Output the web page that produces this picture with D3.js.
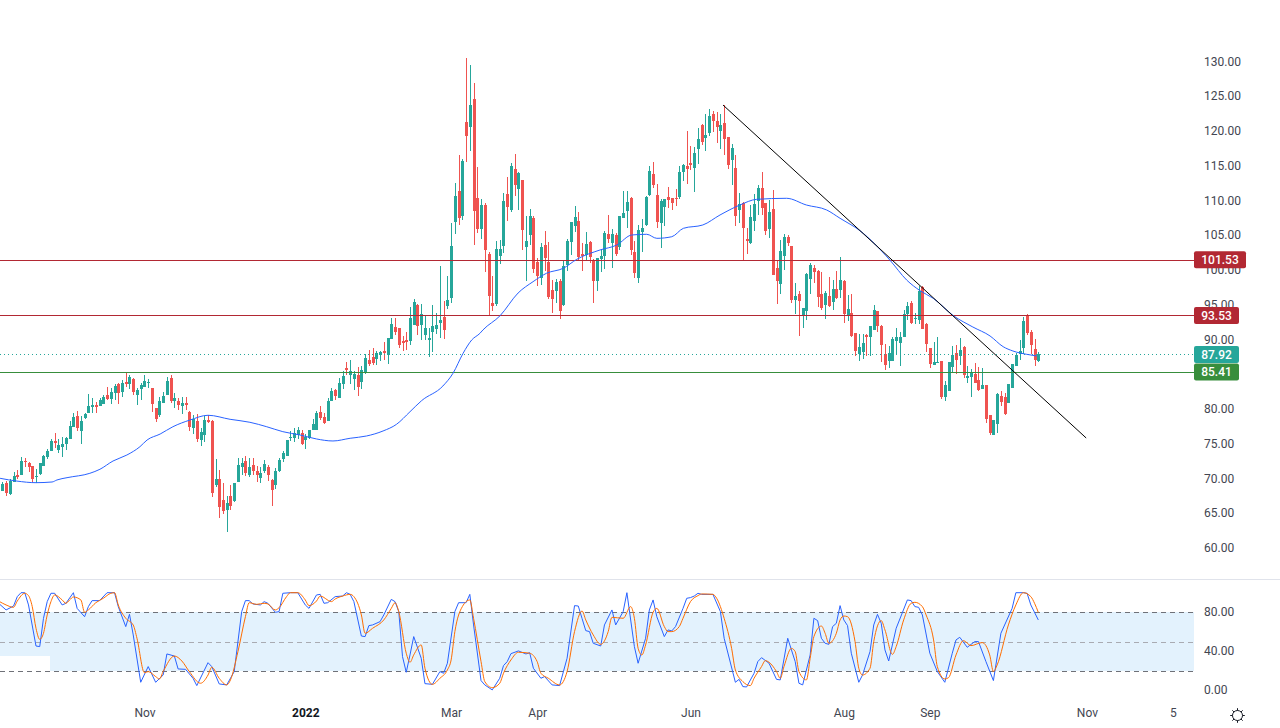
<!DOCTYPE html>
<html><head><meta charset="utf-8">
<script src="https://cdnjs.cloudflare.com/ajax/libs/d3/7.8.5/d3.min.js"></script>
<style>
html,body{margin:0;padding:0;background:#fff;overflow:hidden}
text{font-family:Roboto,"Open Sans",Arial,sans-serif;font-size:12px;fill:#434651}
</style></head><body><svg id="c" width="1280" height="728"></svg>
<script>
const opens=[
68.26,69.41,67.82,69.60,70.51,70.56,72.58,72.29,71.86,70.27,
70.70,71.86,73.15,74.02,75.46,74.16,74.59,75.02,75.74,77.47,
79.06,76.90,78.72,79.49,80.35,80.64,80.50,80.78,82.08,81.50,
82.37,83.66,82.51,83.90,83.66,84.38,82.08,82.94,83.23,83.81,
83.09,80.21,79.20,80.93,82.08,84.53,81.22,81.22,80.50,80.93,
79.63,77.33,78.34,75.60,76.32,78.48,78.34,69.12,69.98,66.96,
65.52,67.54,66.82,69.55,71.71,72.58,70.56,72.00,71.13,70.12,
71.13,71.70,69.83,69.11,71.13,72.85,73.29,75.93,75.88,76.31,
76.60,75.59,75.88,77.03,77.03,79.62,78.90,78.33,81.21,82.79,
81.64,83.65,85.96,84.95,84.37,84.95,83.94,85.24,87.11,87.54,
87.25,87.83,88.41,87.83,90.13,91.86,91.72,89.85,89.99,89.85,
92.15,95.03,92.15,90.71,89.99,91.14,91.57,92.44,93.30,94.90,
96.05,106.98,111.44,107.85,121.37,120.65,124.68,110.44,105.98,109.43,
102.38,95.33,95.18,102.09,103.53,111.01,108.71,114.61,111.73,113.03,
103.39,105.11,107.56,101.23,98.93,103.67,101.23,97.20,97.05,98.49,
95.04,100.80,104.10,106.41,107.13,102.38,102.23,104.10,101.52,98.49,
101.66,102.09,105.26,103.96,105.11,103.39,107.56,108.57,110.44,102.67,
98.93,105.54,106.54,110.86,113.88,110.86,106.83,109.13,110.57,110.43,
110.43,110.57,114.17,115.03,115.47,114.75,117.48,120.93,119.06,119.78,
122.52,121.51,120.07,121.22,119.21,115.90,114.75,108.70,109.71,104.53,
103.96,107.12,110.00,111.87,109.71,105.97,108.85,100.36,98.06,102.08,
104.82,103.53,95.75,96.62,93.60,94.17,98.78,100.36,99.93,96.62,
95.03,96.33,95.47,97.34,97.19,98.49,93.60,93.89,91.01,87.99,
88.27,90.72,90.43,91.44,94.17,92.01,87.99,86.98,86.98,89.86,
89.57,90.43,93.74,95.32,93.03,92.88,97.63,92.30,88.85,86.40,
86.69,86.98,81.80,82.66,86.12,88.13,87.70,88.99,84.53,84.68,
85.11,84.25,82.95,83.53,79.21,76.33,77.91,81.94,81.80,80.94,
83.09,86.26,87.99,88.85,93.60,91.15,88.71,86.98];
const highs=[
69.60,69.74,69.94,70.94,71.28,73.10,72.96,72.43,71.86,71.42,
72.29,73.44,74.30,75.70,76.56,75.70,75.98,76.03,78.34,79.49,
79.78,79.06,79.49,82.22,81.65,81.07,81.65,82.08,83.23,83.09,
83.66,83.81,84.24,85.34,84.96,84.53,83.09,83.81,84.96,84.38,
83.09,80.21,81.79,82.51,84.67,84.96,82.37,81.65,81.79,81.79,
79.78,79.20,79.34,77.33,79.06,79.20,78.48,72.86,71.28,69.41,
67.54,69.12,69.41,73.01,73.01,73.30,73.01,73.01,71.85,71.70,
72.71,71.99,69.97,71.56,73.00,74.01,75.59,76.89,77.32,77.46,
77.03,76.45,77.03,78.61,79.77,80.49,79.48,81.64,83.08,82.93,
84.52,85.53,86.82,87.11,85.53,86.10,86.25,87.97,88.55,88.84,
88.41,88.41,89.70,90.28,93.16,93.16,91.72,90.57,91.14,94.74,
95.89,95.17,95.17,93.45,91.72,95.03,93.88,100.65,95.61,99.21,
106.84,112.59,116.62,116.05,130.58,129.57,126.98,114.90,110.29,109.72,
102.67,99.21,104.25,104.39,111.16,113.46,115.47,116.77,114.18,113.03,
107.85,108.85,107.85,101.80,103.96,105.69,104.10,98.64,98.78,98.78,
101.52,104.54,106.98,109.28,108.42,103.96,105.54,104.25,101.66,101.80,
103.10,105.69,107.99,105.98,105.40,107.85,111.44,111.44,110.58,104.25,
106.55,107.41,110.72,115.03,115.61,112.44,110.29,110.29,112.01,110.43,
111.72,115.03,115.32,120.07,117.91,117.77,120.50,121.08,122.52,123.24,
122.95,122.80,122.52,123.81,119.21,118.20,116.62,111.15,109.85,106.11,
109.42,111.01,112.30,114.17,109.71,110.14,111.58,101.51,104.39,105.25,
105.11,103.53,98.20,97.05,94.60,99.64,101.08,100.79,100.07,99.78,
97.05,99.06,98.63,99.93,101.94,98.63,96.48,96.62,91.01,90.86,
90.86,90.86,92.01,95.04,94.17,92.16,89.43,89.14,90.43,91.73,
91.15,94.32,95.47,95.61,93.89,97.77,97.77,92.45,88.85,89.71,
90.43,86.98,84.10,86.84,89.14,89.28,90.29,89.14,86.26,85.83,
86.69,86.12,85.97,83.53,79.21,78.49,82.38,82.66,82.38,83.67,
86.55,88.13,90.00,93.31,93.74,91.44,90.14,88.27];
const lows=[
68.26,67.58,67.68,69.60,69.94,70.56,71.66,71.04,69.60,69.46,
70.56,71.86,72.82,74.02,74.45,73.73,73.15,74.16,75.74,77.47,
76.90,75.02,78.58,79.49,79.49,79.49,80.50,80.78,81.36,80.78,
81.36,80.78,81.79,83.23,82.94,82.08,80.64,81.36,83.23,83.09,
79.63,78.19,78.91,80.93,82.08,80.93,80.21,79.92,79.34,79.92,
76.90,76.46,75.31,74.74,75.31,78.05,67.39,68.83,64.37,64.94,
62.35,65.52,66.67,69.55,70.56,70.42,70.27,70.56,69.54,69.40,
70.84,69.69,66.09,68.53,70.99,72.42,73.29,75.45,75.30,75.73,
74.87,74.29,75.73,77.03,77.03,78.47,77.89,78.33,81.21,81.35,
81.64,82.93,84.95,83.65,82.79,81.93,82.93,85.09,86.25,86.39,
86.39,86.97,87.11,86.53,90.13,90.71,88.84,88.41,88.55,89.27,
92.15,90.71,89.99,89.99,87.54,88.26,90.85,90.28,90.13,94.46,
95.33,105.26,106.55,107.27,115.62,117.20,103.67,105.40,104.54,99.79,
93.51,94.18,94.90,100.94,102.52,107.13,108.42,110.73,108.71,102.95,
98.49,103.67,99.64,97.77,97.92,99.93,95.90,93.89,95.33,93.03,
94.90,99.93,102.23,105.54,101.52,99.93,101.37,101.08,95.33,97.05,
99.79,100.22,103.96,100.36,102.09,102.95,107.56,106.12,102.23,98.93,
98.21,102.66,106.40,110.72,111.87,106.11,103.24,106.40,108.99,108.70,
109.28,110.29,112.88,112.44,114.46,111.29,115.32,118.06,117.19,119.35,
119.93,118.34,117.48,116.62,114.60,112.30,106.40,106.83,101.46,102.37,
103.81,105.68,107.98,107.98,105.11,104.67,99.35,95.18,96.62,100.07,
103.53,95.33,93.74,90.57,91.73,92.88,96.62,98.20,94.75,94.32,
93.02,94.75,94.32,95.90,96.04,92.45,92.73,90.43,87.70,86.98,
87.27,87.70,87.70,91.44,91.15,86.84,85.68,85.97,86.98,87.99,
86.26,90.43,92.88,92.30,92.30,92.30,91.58,88.27,85.97,86.40,
86.69,81.51,81.22,82.66,85.25,85.11,86.40,84.53,83.81,81.80,
83.81,82.66,82.95,78.06,76.33,76.33,76.62,80.51,79.21,80.94,
83.09,86.26,87.12,87.99,90.72,87.99,86.26,86.84];
const closes=[
69.26,67.92,69.74,70.42,70.22,72.58,72.43,71.71,69.94,70.37,
72.29,73.30,74.02,75.46,75.17,74.88,75.02,75.89,77.62,78.91,
77.33,78.34,79.34,80.50,80.64,80.40,81.36,81.79,81.50,82.51,
83.38,82.37,83.81,83.66,84.67,82.51,82.80,83.52,84.10,83.95,
80.78,78.62,81.22,81.94,84.10,81.22,81.65,80.64,80.93,80.64,
77.47,78.62,75.74,76.75,78.48,78.19,67.97,69.98,65.95,65.38,
66.53,66.10,69.41,72.00,72.29,70.85,71.71,71.14,70.55,70.84,
72.13,70.55,68.39,71.13,72.71,73.72,75.59,76.02,76.60,77.03,
75.01,76.02,77.03,77.89,79.48,78.76,78.04,81.21,82.65,81.93,
83.80,84.81,85.67,85.53,85.09,83.22,85.67,87.40,86.53,86.68,
88.12,88.26,88.12,90.28,92.29,91.14,89.27,89.56,89.70,93.16,
95.46,92.01,93.73,91.72,90.28,92.01,92.15,92.87,91.43,95.76,
103.53,110.73,107.56,115.76,119.36,123.82,108.57,105.98,109.43,102.95,
96.34,94.90,103.10,103.10,110.00,109.14,115.04,112.31,114.03,105.83,
104.25,107.85,100.22,99.21,103.39,101.80,96.19,95.90,98.35,94.18,
100.65,104.25,106.98,107.70,101.95,102.09,103.82,101.95,98.49,101.80,
102.09,105.40,104.54,105.26,102.38,107.85,108.28,109.86,102.95,99.64,
105.83,106.11,110.57,114.31,112.30,106.98,110.00,110.29,110.14,109.71,
110.29,114.17,115.18,114.60,115.18,116.90,118.92,118.49,119.49,122.23,
121.51,120.65,120.93,118.92,115.18,117.62,107.84,109.57,106.11,104.24,
107.70,109.57,111.87,108.99,105.68,108.42,99.35,98.49,102.80,104.82,
103.96,95.75,96.33,95.61,94.60,99.49,100.79,99.78,96.19,94.60,
96.76,94.89,97.34,96.04,98.63,93.74,94.46,90.58,88.42,88.99,
89.57,90.43,92.01,94.32,92.01,89.28,86.40,88.13,90.14,90.43,
90.43,93.74,94.89,92.45,93.17,97.05,91.58,89.43,86.55,86.84,
86.84,81.80,83.53,86.84,87.84,87.12,88.56,84.96,84.82,85.40,
83.81,82.81,83.53,78.63,76.62,78.49,82.23,81.08,79.35,83.67,
86.55,87.84,88.42,92.73,91.01,89.28,87.12,87.92];

const maBars=[-0.6,3.9,9,13.3,14.6,17.3,23.4,26.1,29.6,33.3,36.8,38.7,42.2,45.6,50.2,55,60.9,66.2,70.7,75,79.6,84,88.4,93,97.4,101.8,105.4,109,112.1,117.8,120.5,123.2,125.5,127.7,128.5,133.1,137.9,141.9,145.5,150,153.6,159.8,164.3,168.3,172.3,175,179,182.1,187.3,191.9,197.2,201.7,209.7,215,220.4,224,229.3,237.3,241.8,245.4,248.9,254.3,259.5,264.1,267.6,270.2,273.9,276.6];
const maValues=[70.1,69.7,69.47,69.57,69.86,70.19,70.82,71.40,72.59,73.45,74.65,75.61,76.47,77.52,78.49,79.17,78.59,78.16,77.52,76.81,76.33,75.76,75.47,75.86,76.19,76.91,77.87,79.68,81.27,83.38,85.21,88.09,90.0,90.96,91.44,93.50,96.76,98.39,99.6,100.32,101.61,102.95,103.67,105.11,105.21,104.63,104.86,106.07,106.55,107.99,109.42,110.24,110.39,109.42,108.71,107.51,105.73,101.51,98.63,97.09,96.0,93.50,91.87,90.58,89.04,88.42,87.94,87.70];

const kBars=[-1,1,3,4,5,6,7,9,10,11,12,13,14,16,17,19,20,22,23,24,26,28,30,31,33,34,35,37,39,41,43,44,46,47,49,51,52,55,56,58,60,62,64,65,66,67,69,70,71,73,74,75,77,79,81,82,84,85,86,87,89,91,92,93,
94,96,97,98,99,101,102,104,105,106,107,108,109,110,112,113,115,117,118,119,121,122,124,125,126,128,129,131,133,134,135,136,138,140,141,142,144,145,147,149,151,153,154,155,156,157,158,160,161,163,164,166,167,169,170,172,173,174,175,177,178,179,180,182,183,184,
185,186,187,190,192,193,196,197,198,199,201,202,203,205,207,208,210,212,213,214,216,217,218,219,220,221,222,223,224,225,226,227,229,230,232,233,234,235,236,237,239,242,243,244,245,246,248,250,252,254,255,256,258,260,261,263,265,267,270,271,273,274,275,277];
const kValues=[89.2,82.4,86.4,96,100,100,87.5,45.6,45,73.8,90.9,99.4,99.4,87.5,89.2,100,84,75.5,85.8,91.9,91.9,100,100,85.8,65.4,78,56.9,8.6,24.6,8.6,16,37.5,35.4,22.2,21.8,12.6,5.2,28.6,24.6,6.9,5.9,19.5,80.7,91.9,91.9,88.5,87.5,90.9,89.2,80,80.7,99.4,100,100,87.5,84,97.7,98.3,89.2,89.8,96,96.6,100,98.3,
90.9,55.8,55.2,66.4,67.1,70.5,77.3,93.2,90.9,80.7,34.8,18.8,36.5,55.2,33.1,7.2,6.5,19.5,17.8,28,80.7,89.8,89.8,98.3,67.1,10.3,5.9,0.8,12.7,25.6,29.7,37.8,40.6,37.5,38.8,22.9,12.7,14.4,5.9,5.2,33.1,86.8,86.4,73.8,61.3,60.3,48.4,45.6,67.1,82.4,67.1,80.7,100,45,28,53.5,82.4,92.6,75.5,55.2,62,61,65.4,84,94.3,95,
96.6,99.4,98.3,98.3,80.7,53.5,8.6,11.6,4.2,3.8,17.8,29.7,33.7,28,11.6,11,53.5,29.7,7.6,5.9,36.5,73.9,71.5,53.5,48.4,47.3,65.4,68.8,86.8,72.2,66.4,38.2,8.6,16,39.9,67.1,77.9,68.8,41.6,30.3,63.7,92.6,91.9,85.8,85.1,77.3,38.2,19.5,8.6,38.2,51.8,54.5,44.3,50.1,50.1,29.7,10.3,58.6,84,100,100,99.4,87.5,72.2];
const dBars=[-1,1,3,4,6,7,8,9,10,11,12,13,14,16,17,18,19,21,22,23,25,27,29,30,31,33,35,36,38,39,41,42,43,46,48,50,53,55,56,58,60,61,63,65,66,68,70,71,73,74,76,77,79,81,82,84,85,88,89,91,93,
94,96,97,99,102,104,105,106,108,109,110,112,113,115,117,119,120,121,123,125,126,128,129,131,133,134,136,138,141,143,144,146,149,151,153,155,156,158,160,162,163,166,168,169,170,171,172,174,175,177,178,179,181,182,184,
186,187,190,191,193,195,196,198,200,201,203,204,205,207,208,209,211,212,213,215,216,217,219,220,221,223,224,225,226,228,229,230,232,233,235,236,238,239,241,243,244,246,247,249,250,252,253,255,257,259,262,264,265,266,269,271,273,275,276,277];
const dValues=[91.5,87.5,85.1,91.5,99.4,97,85.8,63.7,52.4,58.6,77.3,90.9,97.7,92.6,89.2,92.6,95.6,92.6,80,82.4,89.8,94.3,99.4,100,87.5,73.9,67,53.5,18.4,19.5,14.4,12,19.5,35.4,30.3,19.5,7.6,16,23.9,12.6,5.9,11,39.9,75.6,89.8,88.1,89.2,88.5,82.4,84.7,96,100,100,92.6,86.8,91.5,96.6,90.9,93.6,96.6,98.3,
96,77.3,58.6,63.7,72.2,84,89.8,80.7,38.2,29,36.5,46.7,22.9,6.5,12.7,21.2,31.4,60.3,85.8,92.6,73.9,29.7,9.3,3.1,7.6,17.8,31.4,39.2,38.2,29.7,17.8,12.7,5.9,19.5,60.3,81.3,72.2,56.9,47.3,60.3,74.9,73.9,85.8,73.9,43.2,36.5,46.7,80,84,65.4,60.3,60.3,65.4,73.9,90.9,
97,98.7,98.3,94.3,73.9,43.2,21.2,9.3,5.2,12.7,24.6,30.7,29,19.5,12.7,24.6,43.2,39.9,19.5,11,33.1,55.2,66,58.6,48.4,58.6,72.2,76.2,75.5,50.1,22.9,16,22.9,50.1,71.5,62,37.1,45,72.2,89.2,90.2,85.8,77.3,51.8,24.6,12,13.3,36.5,51.1,46,49.1,36.5,19.5,26.3,67.1,87.5,100,96,89.2,80];

const priceTicks=d3.range(60,131,5);
const stochTicks=[0,40,80];
const stochLevels=[20,50,80];
const resistance=[101.53,93.53];
const support=[85.41];
const lastPrice=87.92;
const trendBars=[192.7,289.8];
const trendValues=[123.81,75.9];
const timeTickBars=[38,81,120,143,184,225,248,290,313];
const timeTickLabels=["Nov","2022","Mar","Apr","Jun","Aug","Sep","Nov","5"];

const up="#26a69a",down="#ef5350",red="#b22833",grn="#388e3c",axisX=1194;
const svg=d3.select("#c");
const x=d3.scaleLinear().domain([0,277]).range([2.33,1038.3]);
const y=d3.scaleLinear().domain([60,130]).range([548.5,62]);
const ys=d3.scaleLinear().domain([0,100]).range([690.7,592.7]);
const defs=svg.append("defs");
defs.append("clipPath").attr("id","cp").append("rect").attr("x",0).attr("y",0).attr("width",axisX).attr("height",579);
defs.append("clipPath").attr("id","cs").append("rect").attr("x",0).attr("y",580).attr("width",axisX).attr("height",120);

// price axis
const pa=svg.append("g").attr("transform",`translate(${axisX},-0.6)`).call(d3.axisRight(y).tickValues(priceTicks).tickSize(0).tickPadding(10).tickFormat(d3.format(".2f")));
pa.select(".domain").remove();

const main=svg.append("g").attr("clip-path","url(#cp)");
const bars=d3.range(opens.length);
const px=i=>Math.round(x(i));
main.append("g").attr("shape-rendering","crispEdges").selectAll("g").data(bars).join("g").each(function(i){
  const c=closes[i]>=opens[i]?up:down, g=d3.select(this);
  g.append("rect").attr("x",px(i)).attr("width",1).attr("y",y(highs[i])).attr("height",Math.max(1,y(lows[i])-y(highs[i]))).attr("fill",c);
  const t=y(Math.max(opens[i],closes[i])),b=y(Math.min(opens[i],closes[i]));
  g.append("rect").attr("x",px(i)-1).attr("width",3).attr("y",t).attr("height",Math.max(1,b-t)).attr("fill",c);
});
const hline=(v,col,dash)=>main.append("line").attr("x1",0).attr("x2",axisX).attr("y1",Math.round(y(v))+.5).attr("y2",Math.round(y(v))+.5).attr("stroke",col).attr("stroke-width",1).attr("stroke-dasharray",dash||null);
resistance.forEach(v=>hline(v,red));
support.forEach(v=>hline(v,grn));
hline(lastPrice,up,"1 3");
main.append("path").attr("d",d3.line().x(d=>x(d)).y((d,i)=>y(maValues[i])).curve(d3.curveMonotoneX)(maBars)).attr("fill","none").attr("stroke","#2962ff").attr("stroke-width",1);
main.append("path").attr("d",d3.line().x(d=>x(d)).y((d,i)=>y(trendValues[i]))(trendBars)).attr("fill","none").attr("stroke","#000").attr("stroke-width",1);

// price tags
const tag=(v,col,w)=>{
  const yy=y(v);
  svg.append("rect").attr("x",axisX).attr("y",yy-8.5).attr("width",w).attr("height",17).attr("rx",2).attr("fill",col);
  svg.append("text").attr("x",axisX+w/2).attr("y",yy+4.3).attr("text-anchor","middle").style("fill","#fff").style("font-weight",500).text(v.toFixed(2));
};
resistance.forEach((v,i)=>tag(v,red,i==0?52:45));
tag(lastPrice,up,45);
support.forEach(v=>tag(v,grn,45));

// separator
svg.append("rect").attr("x",0).attr("y",579).attr("width",1280).attr("height",1).attr("fill","#e0e3eb");

// stochastic pane
const band=svg.append("g").attr("shape-rendering","crispEdges");
const bandEnd=x(12.7);
band.append("rect").attr("x",0).attr("width",bandEnd).attr("y",ys(80)).attr("height",ys(35)-ys(80)).attr("fill","#e3f2fd");
band.append("rect").attr("x",bandEnd).attr("width",axisX-bandEnd).attr("y",ys(80)).attr("height",ys(20)-ys(80)).attr("fill","#e3f2fd");
stochLevels.forEach(v=>svg.append("line").attr("x1",0).attr("x2",axisX).attr("y1",Math.round(ys(v))+.5).attr("y2",Math.round(ys(v))+.5).attr("stroke",v==50?"#a9abb2":"#6f7178").attr("stroke-width",1).attr("stroke-dasharray","5 4"));
const sg=svg.append("g").attr("clip-path","url(#cs)");
sg.append("path").attr("d",d3.line().x(d=>x(d)).y((d,i)=>ys(kValues[i]))(kBars)).attr("fill","none").attr("stroke","#2962ff").attr("stroke-width",1);
sg.append("path").attr("d",d3.line().x(d=>x(d)).y((d,i)=>ys(dValues[i])).curve(d3.curveMonotoneX)(dBars)).attr("fill","none").attr("stroke","#ff6d00").attr("stroke-width",1);
const sa=svg.append("g").attr("transform",`translate(${axisX},-1)`).call(d3.axisRight(ys).tickValues(stochTicks).tickSize(0).tickPadding(10).tickFormat(d3.format(".2f")));
sa.select(".domain").remove();

// time axis
const ta=svg.append("g").attr("transform","translate(0,708)").call(d3.axisBottom(x).tickValues(timeTickBars).tickSize(0).tickPadding(0).tickFormat((d,i)=>timeTickLabels[i]));
ta.select(".domain").remove();
ta.selectAll("text").attr("dy","0.71em").filter(d=>d==81).style("font-weight",700).style("fill","#131722");
[pa,sa,ta].forEach(a=>a.attr("font-family",null).attr("font-size",null));

// settings icon
const ic=svg.append("g").attr("transform","translate(1237.5,715.5)").attr("fill","none").attr("stroke","#131722").attr("stroke-width",1);
ic.append("circle").attr("r",5);
d3.range(8).forEach(k=>{const a=k*Math.PI/4;ic.append("line").attr("x1",5*Math.cos(a)).attr("y1",5*Math.sin(a)).attr("x2",7.3*Math.cos(a)).attr("y2",7.3*Math.sin(a));});
</script></body></html>
